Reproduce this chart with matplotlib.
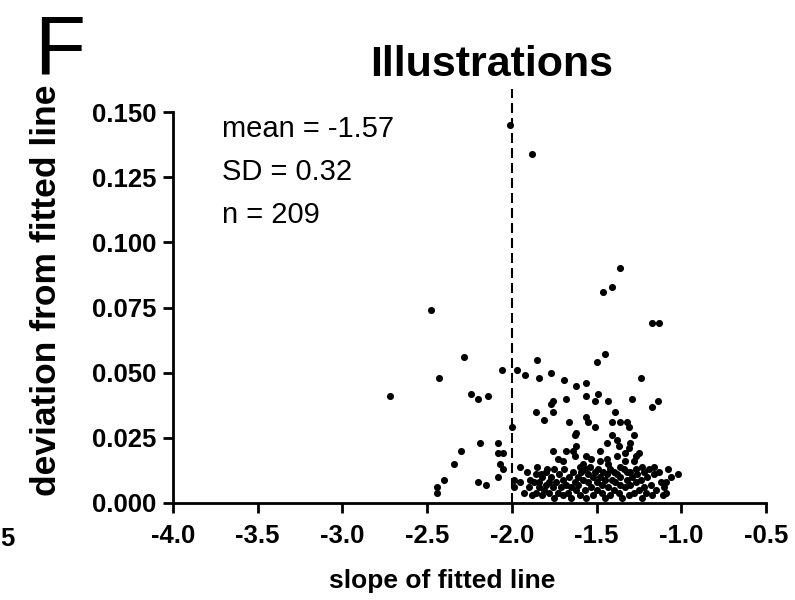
import matplotlib.pyplot as plt
import numpy as np

plt.rcParams['font.family'] = ['Liberation Sans', 'DejaVu Sans']
plt.rcParams['axes.unicode_minus'] = False

# scattered fits above the main cluster
slope_upper = [
    -2.01, -1.88, -1.36, -1.41, -1.46, -1.17, -1.13, -2.48, -1.45, -1.50,
    -1.85, -2.06, -1.97, -1.92, -1.84, -1.77, -1.69, -1.62, -1.56, -1.24,
    -2.28, -2.43, -2.72, -2.24, -2.20, -2.14, -1.68, -1.56, -1.49, -1.51,
    -1.43, -1.29, -1.14, -1.17, -1.77, -1.76, -1.86, -1.76, -1.81, -1.66,
    -1.56, -1.55, -1.39, -1.41, -1.36, -1.32, -1.31, -1.62, -1.63, -1.51,
    -1.28, -1.44, -1.38, -1.37, -1.30, -1.31, -1.25, -1.27, -1.76, -1.73,
    -1.68, -1.64, -1.63, -1.56, -1.44, -1.38, -1.36, -1.08, -1.02, -1.09,
    -1.09, -2.00, -2.08, -2.08, -2.05, -2.07, -2.05, -2.08, -1.95, -1.99,
    -1.99, -1.95, -1.89, -1.86, -1.84, -1.85, -1.82, -1.79, -1.84, -1.81,
    -1.78, -2.19, -2.30, -2.34, -2.40, -2.44, -2.44, -2.20, -2.15, -1.33,
    -1.32,
]
dev_upper = [
    0.145, 0.134, 0.090, 0.083, 0.081, 0.069, 0.069, 0.074, 0.057, 0.054,
    0.055, 0.051, 0.051, 0.049, 0.048, 0.050, 0.047, 0.045, 0.046, 0.048,
    0.056, 0.048, 0.041, 0.042, 0.040, 0.041, 0.040, 0.041, 0.042, 0.039,
    0.039, 0.040, 0.039, 0.037, 0.038, 0.039, 0.035, 0.035, 0.032, 0.031,
    0.033, 0.031, 0.035, 0.031, 0.031, 0.031, 0.029, 0.027, 0.026, 0.029,
    0.026, 0.023, 0.024, 0.022, 0.023, 0.021, 0.019, 0.018, 0.020, 0.017,
    0.020, 0.020, 0.018, 0.018, 0.017, 0.018, 0.014, 0.013, 0.011, 0.008,
    0.004, 0.029, 0.023, 0.019, 0.019, 0.015, 0.013, 0.010, 0.014, 0.009,
    0.006, 0.008, 0.009, 0.011, 0.008, 0.014, 0.010, 0.013, 0.006, 0.005,
    0.008, 0.023, 0.020, 0.015, 0.009, 0.006, 0.004, 0.008, 0.007, 0.016,
    0.012,
]

# dense band of good fits near the x axis
slope_band = [
    -1.93, -1.91, -1.90, -1.88, -1.87, -1.86, -1.83, -1.82, -1.80, -1.80,
    -1.78, -1.77, -1.76, -1.75, -1.75, -1.74, -1.73, -1.72, -1.71, -1.70,
    -1.70, -1.69, -1.68, -1.67, -1.66, -1.65, -1.65, -1.64, -1.63, -1.62,
    -1.61, -1.60, -1.60, -1.61, -1.59, -1.58, -1.57, -1.57, -1.56, -1.55,
    -1.55, -1.54, -1.53, -1.52, -1.52, -1.51, -1.50, -1.50, -1.49, -1.48,
    -1.47, -1.47, -1.46, -1.45, -1.45, -1.44, -1.43, -1.42, -1.42, -1.41,
    -1.40, -1.40, -1.39, -1.38, -1.37, -1.36, -1.36, -1.35, -1.34, -1.33,
    -1.32, -1.31, -1.30, -1.30, -1.29, -1.28, -1.27, -1.27, -1.26, -1.25,
    -1.24, -1.23, -1.22, -1.22, -1.21, -1.20, -1.19, -1.18, -1.17, -1.16,
    -1.15, -1.13, -1.12, -1.11, -1.10,
]
dev_band = [
    0.004, 0.012, 0.006, 0.003, 0.008, 0.004, 0.011, 0.003, 0.007, 0.012,
    0.004, 0.010, 0.006, 0.013, 0.002, 0.008, 0.004, 0.011, 0.006, 0.009,
    0.003, 0.013, 0.007, 0.004, 0.010, 0.006, 0.002, 0.012, 0.008, 0.005,
    0.010, 0.014, 0.003, 0.007, 0.012, 0.009, 0.005, 0.013, 0.002, 0.008,
    0.011, 0.014, 0.006, 0.010, 0.003, 0.012, 0.008, 0.005, 0.013, 0.010,
    0.004, 0.007, 0.012, 0.009, 0.002, 0.011, 0.006, 0.013, 0.003, 0.009,
    0.005, 0.012, 0.008, 0.011, 0.004, 0.007, 0.010, 0.002, 0.013, 0.006,
    0.009, 0.003, 0.012, 0.007, 0.010, 0.004, 0.013, 0.008, 0.011, 0.005,
    0.009, 0.002, 0.012, 0.006, 0.004, 0.010, 0.013, 0.007, 0.003, 0.011,
    0.005, 0.012, 0.008, 0.003, 0.006,
]

# a few more just above the band
slope_mid = [-1.70, -1.58, -1.53, -1.48, -1.43, -1.33, -1.28, -1.23, -1.06,
             -1.16, -1.48, -1.62, -1.41]
dev_mid = [0.016, 0.015, 0.017, 0.016, 0.015, 0.019, 0.016, 0.014, 0.010,
           0.014, 0.020, 0.022, 0.026]

slope = slope_upper + slope_band + slope_mid
deviation = dev_upper + dev_band + dev_mid

mean_slope = -1.57
sd_slope = 0.32
n_fits = 209
ref_slope = -2.0

fig = plt.figure(figsize=(7.95, 6.0), dpi=100)
ax = fig.add_axes([173 / 795, 97 / 600, 593 / 795, 391 / 600])

ax.scatter(slope, deviation, s=26, c='black', linewidths=0, zorder=3, clip_on=False)
ax.plot([ref_slope, ref_slope], [0, 0.159], color='black', lw=1.5,
        ls=(0, (4.8, 2.4)), clip_on=False, zorder=2)

ax.set_xlim(-4.0, -0.5)
ax.set_ylim(0, 0.150)
ax.set_xticks(np.arange(-4.0, -0.49, 0.5))
ax.set_yticks(np.arange(0, 0.151, 0.025))
ax.xaxis.set_major_formatter(plt.FormatStrFormatter('%.1f'))
ax.yaxis.set_major_formatter(plt.FormatStrFormatter('%.3f'))

for side in ['top', 'right']:
    ax.spines[side].set_visible(False)
for side in ['left', 'bottom']:
    ax.spines[side].set_linewidth(2)

ax.tick_params(direction='out', length=7, width=2, labelsize=18.5)
ax.tick_params(axis='x', pad=8)
ax.tick_params(axis='y', pad=5)
for lab in ax.get_xticklabels() + ax.get_yticklabels():
    lab.set_fontweight('bold')

ax.set_xlabel('slope of fitted line', fontsize=19, fontweight='bold')
ax.xaxis.set_label_coords(0.454, -0.17)
ax.set_ylabel('deviation from fitted line', fontsize=25.5, fontweight='bold')
ax.yaxis.set_label_coords(-0.186, 0.545)

ax.text(0.083, 0.936, f'mean = {mean_slope:.2f}', transform=ax.transAxes,
        fontsize=21, va='baseline')
ax.text(0.083, 0.826, f'SD = {sd_slope:.2f}', transform=ax.transAxes,
        fontsize=21, va='baseline')
ax.text(0.083, 0.716, f'n = {n_fits}', transform=ax.transAxes,
        fontsize=21, va='baseline')

fig.text(492 / 795, 1 - 76 / 600, 'Illustrations', ha='center', va='baseline',
         fontsize=31, fontweight='bold')
fig.text(34 / 795, 1 - 73 / 600, 'F', ha='left', va='baseline', fontsize=60)
# last digit of the neighbouring panel's tick label at the left edge
fig.text(0, 1 - 546 / 600, '5', ha='left', va='baseline',
         fontsize=18.5, fontweight='bold')

fig.savefig('out.png', dpi=100)
